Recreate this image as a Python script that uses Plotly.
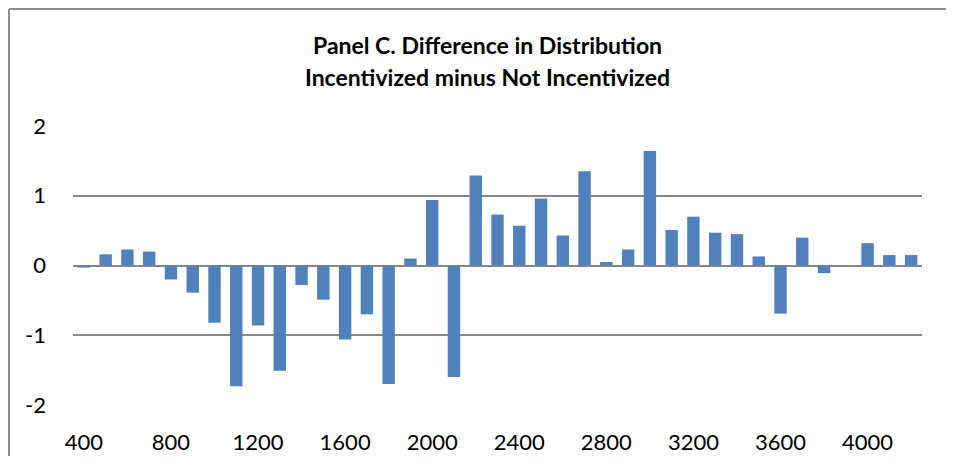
import plotly.graph_objects as go

categories = list(range(400, 4300, 100))
values = [-0.03, 0.16, 0.23, 0.20, -0.20, -0.39, -0.82, -1.73, -0.86, -1.51,
          -0.28, -0.49, -1.06, -0.70, -1.70, 0.10, 0.94, -1.60, 1.29, 0.73,
          0.57, 0.96, 0.43, 1.35, 0.05, 0.23, 1.64, 0.51, 0.70, 0.47,
          0.45, 0.13, -0.69, 0.40, -0.11, 0.0, 0.32, 0.15, 0.15]
x_ticks = list(range(400, 4001, 400))
y_ticks = [-2, -1, 0, 1, 2]
title_lines = ["Panel C. Difference in Distribution", "Incentivized minus Not Incentivized"]

# page body has an 8px margin; size the figure so no scrollbars appear
W, H = 938, 448
L, R, T, B = 65, 24, 118, 51
pw = W - L - R
ph = H - T - B

fig = go.Figure(go.Bar(x=categories, y=values,
                       marker=dict(color="#4F81BD", line=dict(width=0))))

fig.update_layout(
    width=W, height=H,
    margin=dict(l=L, r=R, t=T, b=B),
    paper_bgcolor="white", plot_bgcolor="white",
    bargap=0.43,
    showlegend=False,
    font=dict(family="Lato, Open Sans, sans-serif", size=22, color="black"),
)
fig.update_xaxes(
    range=[350, 4250], tickvals=x_ticks, ticktext=[str(v) for v in x_ticks],
    showgrid=False, showline=False, zeroline=False, ticks="",
    ticklabelstandoff=22, tickfont=dict(size=22), automargin=False,
)
fig.update_yaxes(
    range=[-2, 2], tickvals=y_ticks, ticktext=[str(v) for v in y_ticks],
    showgrid=True, gridcolor="#888888", gridwidth=1.5,
    zeroline=True, zerolinecolor="#888888", zerolinewidth=1.5,
    showline=False, ticks="", ticklabelstandoff=26, tickfont=dict(size=22),
    automargin=False,
)

for line, yc in zip(title_lines, [37, 69]):
    fig.add_annotation(
        text="<b>" + line + "</b>",
        xref="paper", yref="paper", x=(479 - L) / pw, y=(H - B - yc) / ph,
        xanchor="center", yanchor="middle", showarrow=False,
        font=dict(size=23, color="black"),
    )

# chart border: top and left edges (right/bottom lie outside the window)
border = dict(color="#8c8c8c", width=2)
fig.add_shape(type="line", xref="paper", yref="paper",
              x0=(1 - L) / pw, x1=(W - L) / pw,
              y0=(H - B - 1) / ph, y1=(H - B - 1) / ph, line=border, layer="below")
fig.add_shape(type="line", xref="paper", yref="paper",
              x0=(1 - L) / pw, x1=(1 - L) / pw,
              y0=(H - B - 1) / ph, y1=-B / ph, line=border, layer="below")

fig.write_html("out.html")
